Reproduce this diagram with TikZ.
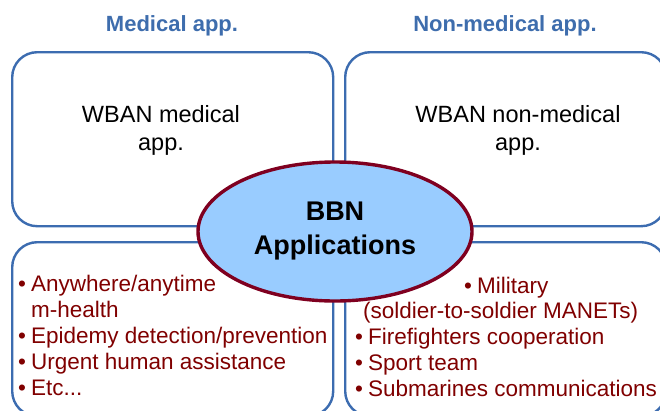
\documentclass[tikz,border=0pt]{standalone}
\usepackage{fontspec}
\setmainfont{Liberation Sans}
\usetikzlibrary{shapes.geometric}
\definecolor{boxblue}{HTML}{3C6CB0}
\definecolor{headblue}{HTML}{3E6DAD}
\definecolor{itemred}{HTML}{800000}
\definecolor{ellfill}{HTML}{99CCFF}
\definecolor{ellline}{HTML}{7F0020}
\tikzset{
  quad/.style={draw=boxblue, line width=2.4pt, rounded corners=25pt, fill=white,
    rectangle, minimum width=321pt, minimum height=174pt, inner sep=0pt, anchor=north west},
  heading/.style={text=headblue, font=\fontsize{22}{26}\selectfont\bfseries, anchor=base, inner sep=0pt},
  boxtext/.style={text=black, font=\fontsize{23.5}{28}\selectfont, align=center, anchor=base, inner sep=0pt},
  items/.style={text=itemred, font=\fontsize{22.5}{25.9}\selectfont, anchor=base west, inner sep=0pt},
  centre/.style={ellipse, draw=ellline, line width=3.4pt, fill=ellfill,
    minimum width=274pt, minimum height=139pt, inner sep=0pt,
    font=\fontsize{27}{34}\selectfont\bfseries, align=center}
}
\begin{document}
\begin{tikzpicture}[x=1pt,y=-1pt]
\useasboundingbox (0,0) rectangle (660,410);
\begin{scope}
\clip (0,0) rectangle (660,410);
\node[quad] (tl) at (11,51) {};
\node[quad] (tr) at (344,51) {};
\node[quad] (bl) at (11,241) {};
\node[quad] (br) at (344,241) {};
\end{scope}
\node[heading] (h1) at (172,31) {Medical app.};
\node[heading] (h2) at (505,31) {Non-medical app.};
\node[boxtext] (t1) at (161,150) {WBAN medical\\app.};
\node[boxtext] (t2) at (518,150) {WBAN non-medical\\app.};
\node[items] (l1) at (18,291.7) {\begin{tabular}[t]{@{}l@{\hspace{5pt}}l@{}}
•&Anywhere/anytime\\
 &m-health\\
•&Epidemy detection/prevention\\
•&Urgent human assistance\\
•&Etc...
\end{tabular}};
\node[items] (r1) at (355,293) {\begin{tabular}[t]{@{}l@{\hspace{5pt}}l@{}}
\multicolumn{2}{@{}l@{}}{\hspace{109pt}•\hspace{5pt}Military}\\
\multicolumn{2}{@{}l@{}}{\hspace{8pt}(soldier-to-soldier MANETs)}\\
•&Firefighters cooperation\\
•&Sport team\\
•&Submarines communications
\end{tabular}};
\node[centre] (c) at (335,231.5) {BBN\\Applications};
\end{tikzpicture}
\end{document}
